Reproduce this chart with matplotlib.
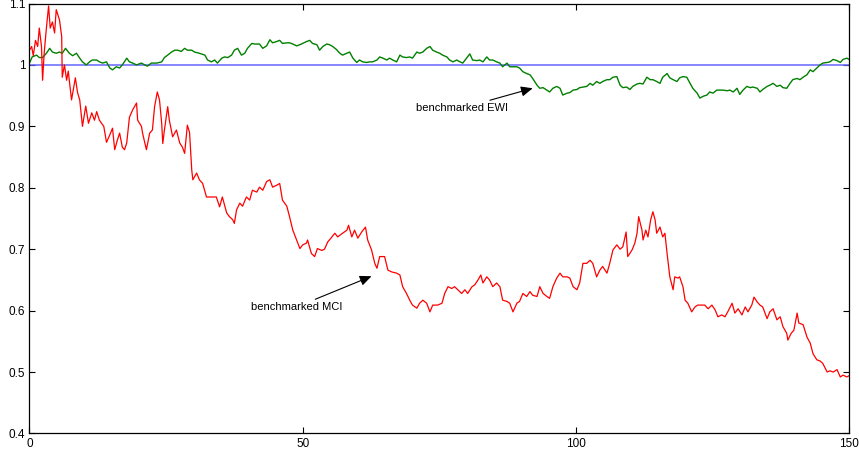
import numpy as np
import matplotlib.pyplot as plt

plt.rcParams['font.family'] = ['Liberation Sans', 'DejaVu Sans']

# benchmarked market-cap index
mci_t = [0.0, 0.4, 0.7, 1.1, 1.5, 1.8, 2.2, 2.4, 2.7, 3.1, 3.5, 3.8, 4.2, 4.6, 4.9, 5.5, 5.9, 6.0,
         6.4, 6.8, 7.1, 7.7, 8.4, 8.8, 9.2, 9.7, 10.3, 10.8, 11.4, 11.9, 12.3, 12.8, 13.6, 14.1,
         14.7, 15.2, 15.6, 16.1, 16.5, 17.0, 17.4, 17.8, 18.3, 18.9, 19.6, 19.8, 20.5, 20.7, 21.4,
         22.0, 22.5, 22.9, 23.4, 23.8, 24.2, 24.4, 24.7, 25.3, 25.6, 26.2, 26.9, 27.5, 28.0, 28.4,
         28.9, 29.3, 29.7, 29.9, 30.6, 31.1, 31.7, 32.4, 33.3, 34.2, 34.8, 35.3, 36.1, 36.6, 37.2,
         37.5, 37.9, 38.5, 39.0, 39.7, 40.3, 40.8, 41.6, 42.1, 42.7, 43.4, 44.0, 44.5, 45.2, 45.8,
         46.3, 47.1, 47.6, 48.2, 48.9, 49.5, 50.0, 50.7, 50.9, 51.6, 52.2, 52.7, 53.5, 54.0, 54.6,
         54.9, 55.9, 56.4, 57.3, 58.1, 58.4, 59.0, 59.5, 60.1, 60.8, 61.5, 61.9, 62.6, 63.2, 63.6,
         64.1, 65.0, 65.6, 66.3, 67.2, 67.8, 68.3, 69.0, 69.6, 70.1, 70.9, 71.4, 72.0, 72.7, 73.3,
         73.8, 74.7, 75.5, 76.0, 76.6, 77.3, 77.8, 78.4, 79.1, 79.7, 80.2, 81.0, 81.5, 82.1, 82.6,
         83.0, 83.7, 84.2, 84.8, 85.5, 86.1, 86.6, 87.4, 87.9, 88.5, 89.2, 89.7, 90.3, 91.0, 91.6,
         92.1, 92.9, 93.4, 94.0, 94.7, 95.2, 95.8, 96.5, 97.1, 97.6, 98.4, 98.9, 99.5, 100.2, 100.7,
         101.3, 102.0, 102.6, 103.1, 103.8, 104.4, 104.9, 105.7, 106.2, 106.8, 107.5, 108.1, 108.6,
         109.2, 109.5, 110.3, 110.8, 111.2, 111.5, 112.1, 112.3, 112.8, 113.2, 113.7, 114.1, 114.5,
         114.8, 115.4, 115.9, 116.3, 116.7, 117.2, 117.8, 118.1, 118.7, 119.0, 119.6, 120.0, 120.5,
         121.2, 121.8, 122.3, 123.1, 123.6, 124.2, 124.9, 125.5, 126.0, 126.7, 127.3, 127.8, 128.6,
         129.1, 129.7, 130.4, 131.0, 131.5, 132.2, 132.6, 133.2, 133.7, 134.2, 135.0, 135.5, 136.1,
         136.8, 137.4, 137.9, 138.6, 138.8, 139.4, 139.9, 140.5, 140.8, 141.6, 142.3, 142.9, 143.4,
         144.1, 144.7, 145.2, 146.0, 146.5, 147.1, 147.8, 148.4, 148.9, 149.6, 150.0]
mci_val = [1.024, 1.03, 1.015, 1.04, 1.03, 1.06, 1.03, 0.975, 1.02, 1.06, 1.096, 1.06, 1.07, 1.052,
           1.09, 1.073, 1.046, 0.98, 1.0, 0.975, 0.99, 0.943, 0.979, 0.955, 0.943, 0.90, 0.933,
           0.905, 0.922, 0.91, 0.924, 0.91, 0.90, 0.874, 0.886, 0.897, 0.862, 0.878, 0.889, 0.866,
           0.862, 0.873, 0.915, 0.927, 0.938, 0.91, 0.90, 0.889, 0.862, 0.889, 0.894, 0.932, 0.956,
           0.943, 0.905, 0.872, 0.894, 0.932, 0.91, 0.883, 0.894, 0.873, 0.866, 0.856, 0.902, 0.89,
           0.829, 0.813, 0.824, 0.813, 0.807, 0.785, 0.785, 0.785, 0.769, 0.785, 0.759, 0.753, 0.748,
           0.742, 0.764, 0.775, 0.77, 0.785, 0.78, 0.796, 0.793, 0.801, 0.796, 0.81, 0.813, 0.801,
           0.804, 0.807, 0.78, 0.77, 0.753, 0.731, 0.715, 0.701, 0.707, 0.71, 0.715, 0.693, 0.688,
           0.701, 0.698, 0.70, 0.712, 0.715, 0.726, 0.72, 0.726, 0.731, 0.739, 0.72, 0.731, 0.718,
           0.728, 0.736, 0.715, 0.699, 0.677, 0.669, 0.688, 0.688, 0.666, 0.663, 0.661, 0.658,
           0.639, 0.628, 0.617, 0.609, 0.604, 0.612, 0.617, 0.612, 0.598, 0.609, 0.609, 0.612,
           0.628, 0.639, 0.636, 0.639, 0.634, 0.628, 0.634, 0.628, 0.639, 0.642, 0.65, 0.658, 0.645,
           0.655, 0.65, 0.639, 0.645, 0.639, 0.617, 0.615, 0.612, 0.598, 0.612, 0.615, 0.628, 0.623,
           0.631, 0.625, 0.623, 0.639, 0.628, 0.623, 0.62, 0.639, 0.653, 0.661, 0.655, 0.655, 0.653,
           0.639, 0.634, 0.645, 0.677, 0.677, 0.682, 0.677, 0.655, 0.666, 0.672, 0.661, 0.677, 0.699,
           0.707, 0.70, 0.704, 0.728, 0.688, 0.699, 0.71, 0.726, 0.753, 0.731, 0.715, 0.731, 0.72,
           0.748, 0.761, 0.748, 0.726, 0.736, 0.72, 0.726, 0.693, 0.655, 0.634, 0.655, 0.653, 0.655,
           0.639, 0.617, 0.612, 0.598, 0.606, 0.609, 0.609, 0.609, 0.603, 0.609, 0.601, 0.59, 0.593,
           0.59, 0.598, 0.612, 0.596, 0.603, 0.593, 0.606, 0.598, 0.609, 0.622, 0.614, 0.609, 0.606,
           0.587, 0.598, 0.603, 0.585, 0.59, 0.574, 0.563, 0.552, 0.563, 0.568, 0.596, 0.58, 0.577,
           0.557, 0.547, 0.53, 0.52, 0.518, 0.514, 0.50, 0.502, 0.50, 0.504, 0.492, 0.495, 0.492,
           0.494]

# benchmarked equal-weight index
ewi_t = [0.0, 0.5, 1.3, 1.8, 2.4, 3.1, 3.7, 4.2, 4.9, 5.5, 6.0, 6.6, 7.3, 7.9, 8.6, 9.2, 9.7, 10.4,
         11.0, 11.5, 12.3, 12.8, 13.4, 14.1, 14.7, 15.2, 15.9, 16.5, 17.0, 17.8, 18.3, 18.9, 19.6,
         20.5, 21.1, 21.6, 22.3, 23.3, 24.2, 24.7, 25.3, 26.0, 26.6, 27.1, 27.8, 28.4, 28.9, 29.7,
         30.2, 31.1, 32.1, 32.6, 33.3, 33.9, 34.4, 35.2, 35.7, 36.3, 37.0, 37.5, 38.1, 38.8, 39.4,
         39.9, 40.7, 41.2, 42.1, 42.7, 43.4, 44.0, 44.5, 45.2, 45.8, 46.3, 47.1, 47.6, 48.2, 48.9,
         49.5, 50.0, 50.7, 51.3, 51.8, 52.6, 53.1, 53.7, 54.4, 54.9, 55.5, 56.2, 56.8, 57.3, 58.1,
         58.6, 59.2, 59.9, 60.4, 61.0, 61.7, 62.3, 62.8, 63.6, 64.1, 64.7, 65.4, 65.9, 66.5, 67.2,
         67.8, 68.3, 69.0, 69.6, 70.1, 70.9, 71.4, 72.0, 72.7, 73.3, 73.8, 74.5, 75.1, 75.6, 76.4,
         76.9, 77.5, 78.2, 78.8, 79.3, 80.0, 80.6, 81.1, 81.9, 82.4, 83.0, 83.7, 84.2, 84.8, 85.5,
         86.1, 86.6, 87.4, 87.9, 88.5, 89.2, 89.7, 90.3, 91.0, 91.6, 92.1, 92.9, 93.4, 94.0, 94.7,
         95.2, 95.8, 96.5, 97.1, 97.6, 98.4, 98.9, 99.5, 100.2, 100.7, 101.3, 102.0, 102.6, 103.1,
         103.8, 104.4, 104.9, 105.7, 106.2, 106.8, 107.5, 108.1, 108.6, 109.3, 109.9, 110.4, 111.2,
         111.7, 112.3, 113.0, 113.6, 114.1, 114.8, 115.4, 115.9, 116.7, 117.2, 117.8, 118.5, 119.0,
         119.6, 120.3, 120.9, 121.4, 122.2, 122.7, 123.3, 124.0, 124.5, 125.1, 125.8, 126.4, 126.9,
         127.7, 128.2, 128.8, 129.5, 130.0, 130.6, 131.3, 131.9, 132.4, 133.2, 133.7, 134.2, 135.0,
         135.5, 136.1, 136.8, 137.4, 137.9, 138.6, 139.2, 139.7, 140.5, 141.0, 141.6, 142.3, 142.9,
         143.4, 144.1, 144.7, 145.2, 146.0, 146.5, 147.1, 147.8, 148.4, 148.9, 149.6, 150.0]
ewi_val = [1.003, 1.013, 1.016, 1.012, 1.012, 1.019, 1.027, 1.021, 1.019, 1.021, 1.019, 1.027,
           1.019, 1.015, 1.019, 1.011, 1.005, 1.0, 1.005, 1.008, 1.008, 1.005, 1.003, 1.005, 0.995,
           0.992, 0.997, 0.995, 1.0, 1.011, 1.005, 1.003, 1.0, 1.003, 1.0, 0.998, 1.003, 1.003,
           1.005, 1.012, 1.016, 1.021, 1.024, 1.024, 1.022, 1.027, 1.024, 1.024, 1.021, 1.019,
           1.016, 1.008, 1.005, 1.008, 1.003, 1.011, 1.013, 1.012, 1.016, 1.024, 1.027, 1.016,
           1.019, 1.027, 1.035, 1.034, 1.034, 1.027, 1.031, 1.041, 1.036, 1.038, 1.04, 1.035, 1.036,
           1.036, 1.034, 1.031, 1.033, 1.035, 1.038, 1.04, 1.035, 1.033, 1.024, 1.03, 1.034, 1.033,
           1.03, 1.025, 1.019, 1.016, 1.019, 1.021, 1.011, 1.004, 1.008, 1.005, 1.004, 1.005, 1.005,
           1.008, 1.013, 1.011, 1.008, 1.011, 1.008, 1.005, 1.016, 1.013, 1.012, 1.013, 1.011,
           1.021, 1.019, 1.021, 1.027, 1.03, 1.024, 1.021, 1.019, 1.016, 1.013, 1.008, 1.005, 1.008,
           1.005, 1.003, 1.011, 1.018, 1.008, 1.007, 1.008, 1.005, 1.013, 1.008, 1.008, 1.005,
           1.003, 0.997, 1.003, 0.997, 0.997, 0.997, 0.995, 0.989, 0.986, 0.984, 0.978, 0.967,
           0.962, 0.963, 0.959, 0.956, 0.962, 0.965, 0.962, 0.951, 0.954, 0.955, 0.959, 0.96, 0.963,
           0.964, 0.965, 0.97, 0.967, 0.973, 0.97, 0.973, 0.976, 0.976, 0.98, 0.981, 0.967, 0.963,
           0.964, 0.96, 0.965, 0.969, 0.97, 0.969, 0.98, 0.976, 0.976, 0.973, 0.97, 0.98, 0.986,
           0.979, 0.976, 0.973, 0.979, 0.981, 0.98, 0.97, 0.962, 0.954, 0.946, 0.949, 0.951, 0.956,
           0.954, 0.959, 0.959, 0.959, 0.958, 0.959, 0.956, 0.962, 0.952, 0.959, 0.965, 0.963,
           0.964, 0.962, 0.956, 0.96, 0.965, 0.967, 0.97, 0.965, 0.967, 0.963, 0.962, 0.97, 0.976,
           0.978, 0.976, 0.98, 0.984, 0.992, 0.989, 0.995, 1.0, 1.003, 1.004, 1.005, 1.009, 1.007,
           1.004, 1.009, 1.011, 1.009]

base_t = [0, 150]
base_val = [1.0, 1.0]

x_ticks = [0, 50, 100, 150]
y_ticks = [0.4, 0.5, 0.6, 0.7, 0.8, 0.9, 1.0, 1.1]
y_ticklabels = ['0.4', '0.5', '0.6', '0.7', '0.8', '0.9', '1', '1.1']

fig = plt.figure(figsize=(8.59, 4.55), dpi=100)
ax = fig.add_axes([0.0343, 0.0473, 0.9541, 0.945])

# reference level first, then the two indices on top of it
ax.plot(base_t, base_val, color='#6464ff', lw=1.1)
ax.plot(ewi_t, ewi_val, color='#008000', lw=1.0)
ax.plot(mci_t, mci_val, color='#ff0000', lw=0.9)

ax.set_xlim(0, 150)
ax.set_ylim(0.4, 1.1)
ax.set_xticks(x_ticks)
ax.set_yticks(y_ticks)
ax.set_yticklabels(y_ticklabels)
ax.tick_params(direction='in', length=4, width=0.8, labelsize=8.5, top=True, right=True,
               pad=3, colors='black')
for s in ax.spines.values():
    s.set_linewidth(0.9)

arrow = dict(arrowstyle='-|>,head_length=0.5,head_width=0.22', color='black', lw=0.8,
             mutation_scale=14, shrinkA=0, shrinkB=0)
ax.annotate('benchmarked EWI', xy=(92.1, 0.962), xytext=(87.6, 0.938),
            fontsize=8, ha='right', va='top', arrowprops=arrow)
ax.annotate('benchmarked MCI', xy=(62.6, 0.656), xytext=(57.2, 0.614),
            fontsize=8, ha='right', va='top', arrowprops=arrow)

fig.savefig('out.png', dpi=100)
